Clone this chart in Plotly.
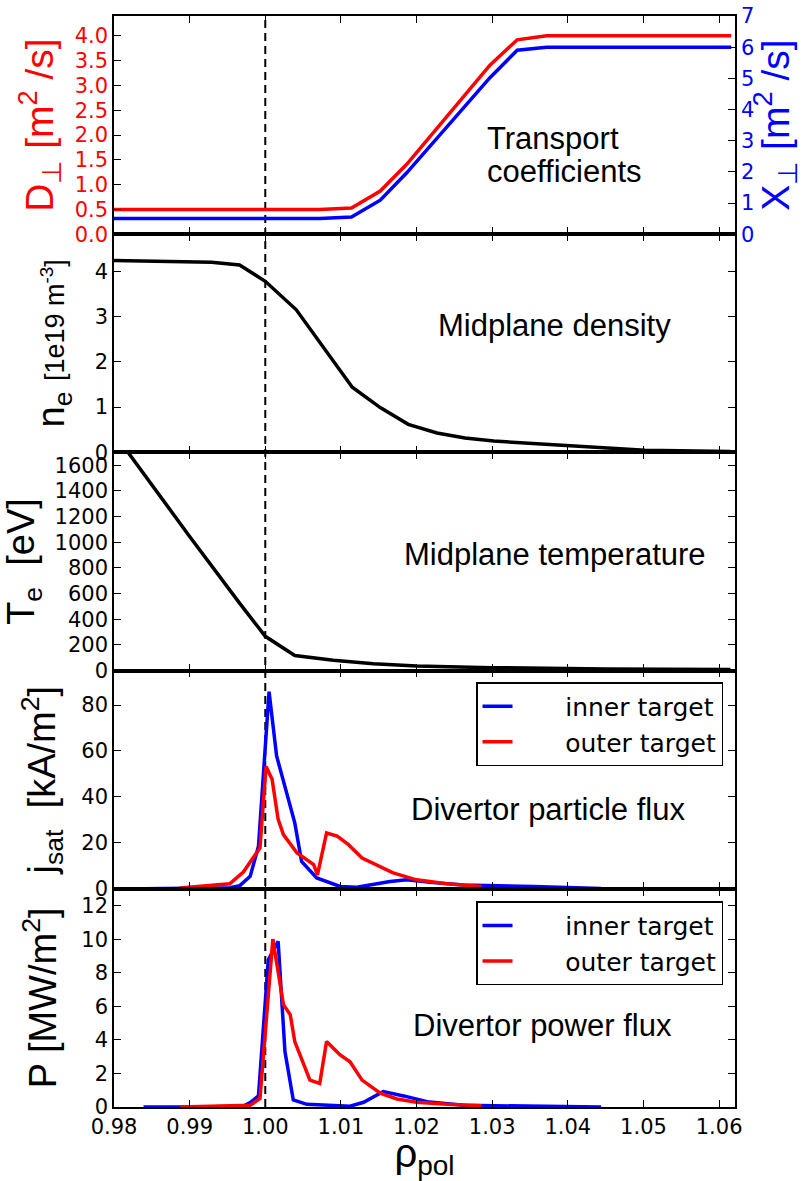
import plotly.graph_objects as go

# ---------------- data ----------------
rho_tc = [0.980, 1.0072, 1.0114, 1.0152, 1.0187, 1.0297, 1.0333, 1.0372, 1.0616]
D_perp = [0.5, 0.5, 0.53, 0.87, 1.41, 3.41, 3.92, 4.0, 4.0]
chi_perp = [0.5, 0.5, 0.55, 1.09, 1.97, 5.02, 5.90, 6.0, 6.0]

rho_ne = [0.980, 0.990, 0.9929, 0.9966, 1.000, 1.0041, 1.0115, 1.0152, 1.0189,
          1.0227, 1.0264, 1.0302, 1.0403, 1.0502, 1.0615]
ne = [4.24, 4.21, 4.20, 4.14, 3.78, 3.15, 1.44, 0.99, 0.62, 0.43, 0.32, 0.25,
      0.155, 0.05, 0.02]

rho_te = [0.980, 0.990, 0.9966, 1.000, 1.0039, 1.009, 1.0143, 1.020, 1.030, 1.045, 1.0615]
te = [1850, 1045, 526, 267, 117, 80, 54, 36, 23, 12, 8]

rho_j_in = [0.9839, 0.9953, 0.9966, 0.998, 0.9991, 1.0005, 1.0015, 1.0039, 1.0048,
            1.0068, 1.0099, 1.0121, 1.0165, 1.0187, 1.0218, 1.0262, 1.0355, 1.0444]
j_in = [0.0, 0.5, 1.3, 5.4, 18.5, 85.8, 57.8, 28.7, 11.9, 4.7, 1.0, 0.7, 3.2, 3.9,
        2.8, 1.7, 1.0, 0.1]

rho_j_out = [0.9887, 0.9953, 0.9971, 0.9993, 1.0001, 1.0009, 1.0017, 1.0024, 1.0042,
             1.0064, 1.0069, 1.0081, 1.0095, 1.011, 1.0128, 1.0152, 1.0169, 1.020,
             1.024, 1.0286]
j_out = [0.3, 2.2, 7.3, 17.8, 53.2, 47.7, 30.2, 23.6, 15.6, 10.5, 6.1, 24.3, 22.9,
         19.2, 13.4, 9.8, 6.9, 3.9, 2.2, 1.0]

rho_p_in = [0.9839, 0.997, 0.998, 0.9991, 1.0004, 1.0017, 1.0026, 1.0037, 1.0055,
            1.0112, 1.013, 1.0156, 1.0183, 1.0214, 1.0262, 1.0444]
p_in = [0.0, 0.02, 0.26, 0.66, 8.78, 9.87, 3.3, 0.42, 0.16, 0.05, 0.28, 0.92, 0.66,
        0.32, 0.1, 0.0]

rho_p_out = [0.9887, 0.998, 0.9993, 1.001, 1.0024, 1.0033, 1.0039, 1.0048, 1.0059,
             1.0072, 1.0081, 1.0099, 1.0112, 1.0128, 1.0152, 1.0174, 1.020, 1.024, 1.0286]
p_out = [0.0, 0.1, 0.5, 10.0, 6.1, 5.5, 3.9, 2.9, 1.6, 1.4, 3.9, 3.1, 2.7, 1.6, 0.82,
         0.48, 0.28, 0.16, 0.08]

x_ticks = [0.98, 0.99, 1.00, 1.01, 1.02, 1.03, 1.04, 1.05, 1.06]
x_ticktext = ["0.98", "0.99", "1.00", "1.01", "1.02", "1.03", "1.04", "1.05", "1.06"]
d_ticks = [0.0, 0.5, 1.0, 1.5, 2.0, 2.5, 3.0, 3.5, 4.0]
d_ticktext = ["0.0", "0.5", "1.0", "1.5", "2.0", "2.5", "3.0", "3.5", "4.0"]

RED = "#ff0000"
BLUE = "#0000ff"
LW = 3.5
TICKFONT = dict(family="DejaVu Sans", size=21, color="black")
LABFONT = "Liberation Sans, Arial"
NB = "\u00a0" * 6

fig = go.Figure()

# panel 1
fig.add_trace(go.Scatter(x=rho_tc, y=D_perp, mode="lines", line=dict(color=RED, width=LW),
                         xaxis="x", yaxis="y", showlegend=False))
fig.add_trace(go.Scatter(x=rho_tc, y=chi_perp, mode="lines", line=dict(color=BLUE, width=LW),
                         xaxis="x", yaxis="y6", showlegend=False))
# panel 2
fig.add_trace(go.Scatter(x=rho_ne, y=ne, mode="lines", line=dict(color="black", width=LW),
                         xaxis="x2", yaxis="y2", showlegend=False))
# panel 3
fig.add_trace(go.Scatter(x=rho_te, y=te, mode="lines", line=dict(color="black", width=LW),
                         xaxis="x3", yaxis="y3", showlegend=False))
# panel 4
fig.add_trace(go.Scatter(x=rho_j_in, y=j_in, mode="lines", line=dict(color=BLUE, width=LW),
                         xaxis="x4", yaxis="y4", name=NB + "inner target", legend="legend"))
fig.add_trace(go.Scatter(x=rho_j_out, y=j_out, mode="lines", line=dict(color=RED, width=LW),
                         xaxis="x4", yaxis="y4", name=NB + "outer target", legend="legend"))
# panel 5
fig.add_trace(go.Scatter(x=rho_p_in, y=p_in, mode="lines", line=dict(color=BLUE, width=LW),
                         xaxis="x5", yaxis="y5", name=NB + "inner target", legend="legend2"))
fig.add_trace(go.Scatter(x=rho_p_out, y=p_out, mode="lines", line=dict(color=RED, width=LW),
                         xaxis="x5", yaxis="y5", name=NB + "outer target", legend="legend2"))

domains = [[0.8, 1.0], [0.6, 0.8], [0.4, 0.6], [0.2, 0.4], [0.0, 0.2]]

common_x = dict(range=[0.98, 1.0621], tickvals=x_ticks, ticktext=x_ticktext,
                ticks="inside", ticklen=7, tickwidth=1.3, tickcolor="black",
                showline=True, linecolor="black", linewidth=1.5, mirror="ticks",
                showgrid=False, zeroline=False, tickfont=TICKFONT, automargin=False)
common_y = dict(ticks="inside", ticklen=7, tickwidth=1.3, tickcolor="black",
                showline=True, linecolor="black", linewidth=1.5,
                showgrid=False, zeroline=False, tickfont=TICKFONT, automargin=False)

layout = dict(width=803, height=1181, margin=dict(l=114, r=68, t=16, b=74),
              paper_bgcolor="white", plot_bgcolor="white")

for i in range(1, 6):
    key = "xaxis" if i == 1 else "xaxis%d" % i
    ax = dict(common_x)
    ax["anchor"] = "y" if i == 1 else "y%d" % i
    ax["showticklabels"] = (i == 5)
    if i > 1:
        ax["matches"] = "x"
    layout[key] = ax

layout["xaxis5"]["title"] = dict(text="\u03c1<sub>pol</sub>",
                                 font=dict(family=LABFONT, size=40, color="black"),
                                 standoff=3)

# y axes
y1 = dict(common_y)
y1.update(domain=domains[0], anchor="x", range=[0, 4.4], tickvals=d_ticks,
          ticktext=d_ticktext, mirror=True, tickfont=dict(family="DejaVu Sans", size=21, color=RED),
          title=dict(text="D<sub>\u22a5</sub> [m<sup>2</sup> /s]",
                     font=dict(family=LABFONT, size=39, color=RED), standoff=9))
layout["yaxis"] = y1

y6 = dict(common_y)
y6.update(overlaying="y", side="right", anchor="x", range=[0, 7], dtick=1, tick0=0,
          tickfont=dict(family="DejaVu Sans", size=21, color=BLUE),
          title=dict(text="X<sub>\u22a5</sub> [m<sup>2</sup> /s]",
                     font=dict(family=LABFONT, size=39, color=BLUE), standoff=8))
layout["yaxis6"] = y6

y2 = dict(common_y)
y2.update(domain=domains[1], anchor="x2", range=[0, 4.82], dtick=1, tick0=0, mirror="ticks",
          title=dict(text="n<sub>e</sub> <span style='font-size:27px'>[1e19 m<sup>-3</sup>]</span>",
                     font=dict(family=LABFONT, size=38, color="black"), standoff=18))
layout["yaxis2"] = y2

y3 = dict(common_y)
y3.update(domain=domains[2], anchor="x3", range=[0, 1700], dtick=200, tick0=0, mirror="ticks",
          title=dict(text="T<sub>e</sub>  [eV]",
                     font=dict(family=LABFONT, size=38, color="black"), standoff=12))
layout["yaxis3"] = y3

y4 = dict(common_y)
y4.update(domain=domains[3], anchor="x4", range=[0, 95], dtick=20, tick0=0, mirror="ticks",
          title=dict(text="j<sub>sat</sub>  [kA/m<sup>2</sup>]",
                     font=dict(family=LABFONT, size=38, color="black"), standoff=14))
layout["yaxis4"] = y4

y5 = dict(common_y)
y5.update(domain=domains[4], anchor="x5", range=[0, 13], dtick=2, tick0=0, mirror="ticks",
          title=dict(text="P [MW/m<sup>2</sup>]",
                     font=dict(family=LABFONT, size=38, color="black"), standoff=13))
layout["yaxis5"] = y5

leg = dict(xanchor="right", x=0.9807, yanchor="top", bordercolor="black", borderwidth=1.5,
           bgcolor="white", font=dict(family="DejaVu Sans", size=25, color="black"),
           tracegroupgap=0)
layout["legend"] = dict(leg, y=0.3895)
layout["legend2"] = dict(leg, y=0.1885)

fig.update_layout(**layout)

ann_font = dict(family=LABFONT, size=31, color="black")
fig.add_annotation(text="Transport", x=1.0291, y=1.92, xref="x", yref="y",
                   xanchor="left", yanchor="middle", showarrow=False, font=ann_font)
fig.add_annotation(text="coefficients", x=1.0291, y=1.27, xref="x", yref="y",
                   xanchor="left", yanchor="middle", showarrow=False, font=ann_font)
fig.add_annotation(text="Midplane density", x=1.0383, y=2.81, xref="x2", yref="y2",
                   xanchor="center", yanchor="middle", showarrow=False, font=ann_font)
fig.add_annotation(text="Midplane temperature", x=1.0383, y=905, xref="x3", yref="y3",
                   xanchor="center", yanchor="middle", showarrow=False, font=ann_font)
fig.add_annotation(text="Divertor particle flux", x=1.0190, y=34.5, xref="x4", yref="y4",
                   xanchor="left", yanchor="middle", showarrow=False, font=ann_font)
fig.add_annotation(text="Divertor power flux", x=1.0192, y=4.85, xref="x5", yref="y5",
                   xanchor="left", yanchor="middle", showarrow=False, font=ann_font)

fig.add_shape(type="line", xref="x", yref="paper", x0=1.0, x1=1.0, y0=0, y1=1,
              line=dict(color="black", width=2, dash="8px,5px"), layer="below")

fig.write_html("out.html")
